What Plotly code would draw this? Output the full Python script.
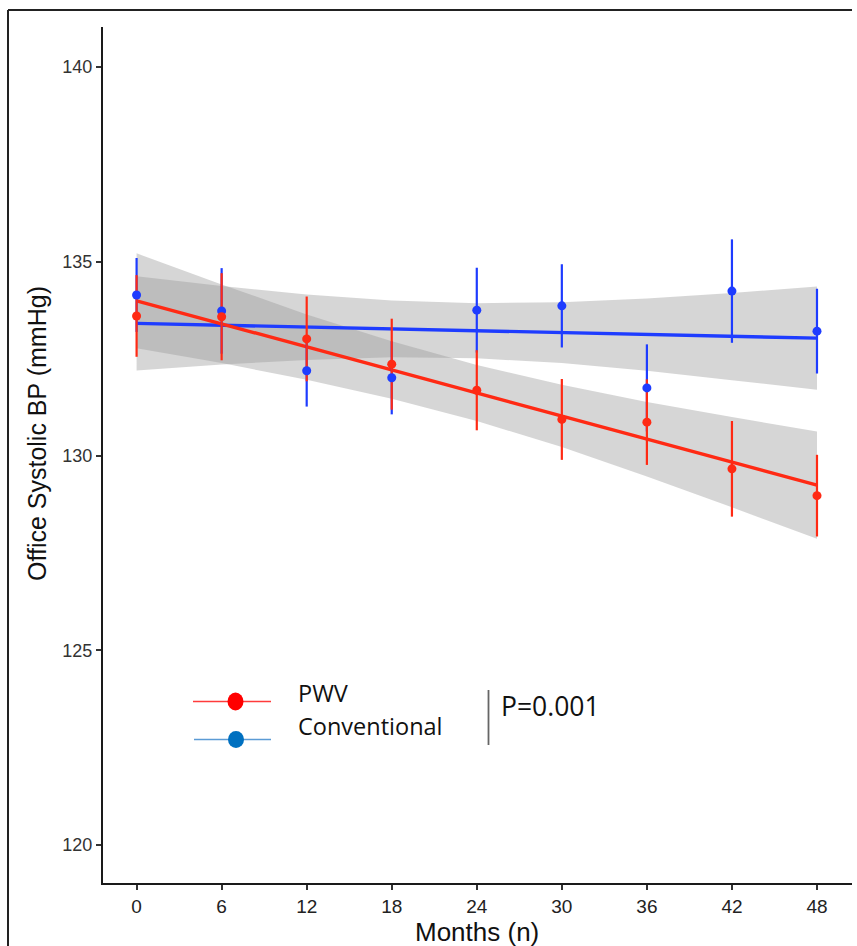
import plotly.graph_objects as go

# Follow-up visits (months)
months = [0, 6, 12, 18, 24, 30, 36, 42, 48]
month_ticks = [0, 6, 12, 18, 24, 30, 36, 42, 48]
bp_ticks = [120, 125, 130, 135, 140]

# Mean office systolic BP and error (mmHg) per visit
pwv_mean = [133.60, 133.58, 133.01, 132.36, 131.69, 130.94, 130.87, 129.67, 128.98]
pwv_err = [1.05, 1.12, 1.09, 1.17, 1.03, 1.04, 1.10, 1.23, 1.05]
conv_mean = [134.14, 133.73, 132.19, 132.01, 133.75, 133.86, 131.75, 134.24, 133.21]
conv_err = [0.95, 1.10, 0.92, 0.94, 1.09, 1.07, 1.12, 1.33, 1.09]

# Linear trend with its confidence half-width at each visit
pwv_fit = [133.99, 133.40, 132.80, 132.21, 131.62, 131.03, 130.43, 129.84, 129.25]
pwv_ci = [1.22, 1.01, 0.84, 0.74, 0.72, 0.80, 0.96, 1.16, 1.38]
conv_fit = [133.41, 133.36, 133.31, 133.27, 133.22, 133.17, 133.12, 133.07, 133.03]
conv_ci = [1.21, 1.01, 0.84, 0.73, 0.71, 0.78, 0.93, 1.12, 1.33]

group_names = ["PWV", "Conventional"]
p_label = "P=0.001"

RED = "#FF2A14"
BLUE = "#1E3CFF"
BAND = "rgba(153,153,153,0.40)"

fig = go.Figure()

# Confidence bands
for fit, ci in [(conv_fit, conv_ci), (pwv_fit, pwv_ci)]:
    upper = [f + c for f, c in zip(fit, ci)]
    lower = [f - c for f, c in zip(fit, ci)]
    fig.add_trace(go.Scatter(
        x=months + months[::-1], y=upper + lower[::-1],
        fill="toself", fillcolor=BAND, line=dict(width=0),
        mode="lines", hoverinfo="skip", showlegend=False))

# Trend lines
for fit, col in [(conv_fit, BLUE), (pwv_fit, RED)]:
    fig.add_trace(go.Scatter(x=months, y=fit, mode="lines",
                             line=dict(color=col, width=3.4), showlegend=False))

# Error bars
for mean, err, col in [(conv_mean, conv_err, BLUE), (pwv_mean, pwv_err, RED)]:
    fig.add_trace(go.Scatter(
        x=months, y=mean, mode="markers", marker=dict(size=1, opacity=0),
        error_y=dict(type="data", array=err, visible=True, color=col,
                     thickness=2.2, width=0),
        showlegend=False))

# Mean points
for mean, col in [(conv_mean, BLUE), (pwv_mean, RED)]:
    fig.add_trace(go.Scatter(x=months, y=mean, mode="markers",
                             marker=dict(color=col, size=9), showlegend=False))

# Plot area geometry (pixels)
W, H = 857, 946
L, R, T, B = 103, 5, 27, 63
pw, ph = W - L - R, H - T - B


def px(x):
    return (x - L) / pw


def py(y):
    return (H - B - y) / ph


shapes = []
# Outer frame (left and top)
shapes.append(dict(type="line", xref="paper", yref="paper",
                   x0=px(8), x1=px(8), y0=py(10), y1=py(950),
                   line=dict(color="#222222", width=2)))
shapes.append(dict(type="line", xref="paper", yref="paper",
                   x0=px(8), x1=px(852), y0=py(10), y1=py(10),
                   line=dict(color="#222222", width=2)))

# Custom key
shapes.append(dict(type="line", xref="paper", yref="paper",
                   x0=px(193), x1=px(271), y0=py(701.5), y1=py(701.5),
                   line=dict(color="#FF3B3B", width=1.5)))
shapes.append(dict(type="circle", xref="paper", yref="paper",
                   x0=px(227.5), x1=px(243.5), y0=py(692.5), y1=py(710.5),
                   fillcolor="#FF0000", line=dict(width=0)))
shapes.append(dict(type="line", xref="paper", yref="paper",
                   x0=px(194), x1=px(271), y0=py(739.5), y1=py(739.5),
                   line=dict(color="#5B9BD5", width=1.5)))
shapes.append(dict(type="circle", xref="paper", yref="paper",
                   x0=px(228), x1=px(244), y0=py(731), y1=py(748),
                   fillcolor="#0070C0", line=dict(width=0)))
shapes.append(dict(type="line", xref="paper", yref="paper",
                   x0=px(488.5), x1=px(488.5), y0=py(690), y1=py(745),
                   line=dict(color="#666666", width=1.8)))

key_font = dict(family="'Open Sans', Lato, sans-serif", size=23.5, color="#111111")
annotations = [
    dict(text=group_names[0], xref="paper", yref="paper", x=px(296), y=py(693),
         xanchor="left", yanchor="middle", showarrow=False, font=key_font),
    dict(text=group_names[1], xref="paper", yref="paper", x=px(296), y=py(726),
         xanchor="left", yanchor="middle", showarrow=False, font=key_font),
    dict(text=p_label, xref="paper", yref="paper", x=px(499), y=py(706),
         xanchor="left", yanchor="middle", showarrow=False,
         font=dict(family="'Open Sans', Lato, sans-serif", size=26.5, color="#111111")),
    # Axis titles
    dict(text="Office Systolic BP (mmHg)", xref="paper", yref="paper",
         x=px(37), y=py(434), xanchor="center", yanchor="middle", textangle=-90,
         showarrow=False,
         font=dict(family="'Liberation Sans Narrow', 'Liberation Sans', Arial", size=25,
                   color="#111111")),
    dict(text="Months (n)", xref="paper", yref="paper",
         x=px(477), y=py(932), xanchor="center", yanchor="middle",
         showarrow=False,
         font=dict(family="'Liberation Sans Narrow', 'Liberation Sans', Arial", size=26,
                   color="#111111")),
]

fig.update_layout(
    width=W, height=H,
    margin=dict(l=L, r=R, t=T, b=B, pad=0),
    paper_bgcolor="white", plot_bgcolor="white",
    showlegend=False,
    shapes=shapes, annotations=annotations,
    xaxis=dict(range=[-2.37, 50.47], tickvals=month_ticks,
               ticktext=[str(m) for m in month_ticks],
               showgrid=False, zeroline=False,
               showline=True, linecolor="#1a1a1a", linewidth=2,
               ticks="outside", ticklen=5, tickwidth=1.5, tickcolor="#333333",
               tickfont=dict(family="'Liberation Sans Narrow', 'Liberation Sans', Arial",
                             size=19, color="#222222")),
    yaxis=dict(range=[119.02, 141.03], tickvals=bp_ticks,
               showgrid=False, zeroline=False,
               showline=True, linecolor="#1a1a1a", linewidth=2,
               ticks="outside", ticklen=5, tickwidth=1.5, tickcolor="#333333",
               tickfont=dict(family="'Liberation Sans', Arial", size=18,
                             color="#333333")),
)

fig.write_html("out.html")
